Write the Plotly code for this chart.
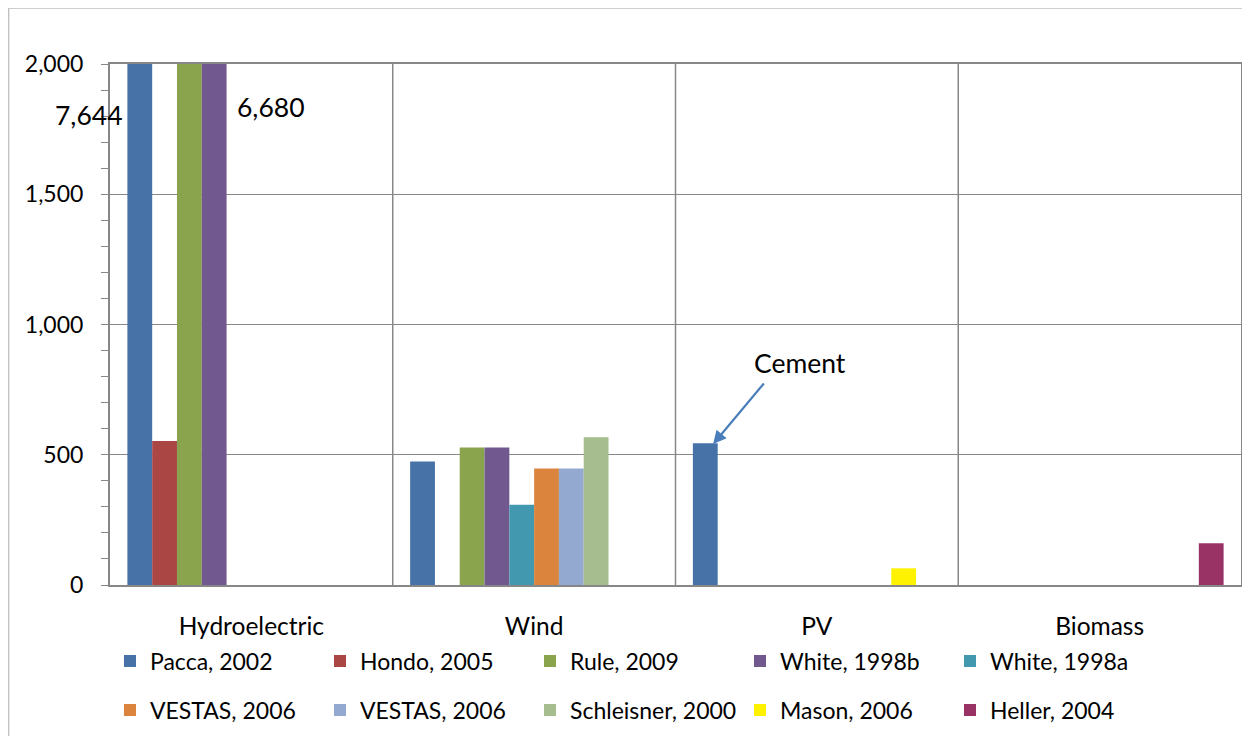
import plotly.graph_objects as go

categories = ["Hydroelectric", "Wind", "PV", "Biomass"]
series_names = ["Pacca, 2002", "Hondo, 2005", "Rule, 2009", "White, 1998b", "White, 1998a",
                "VESTAS, 2006", "VESTAS, 2006", "Schleisner, 2000", "Mason, 2006", "Heller, 2004"]
values = [
    [7644, 474, 544, None],     # Pacca, 2002
    [553, None, None, None],    # Hondo, 2005
    [2000, 528, None, None],    # Rule, 2009 (beyond axis)
    [6680, 528, None, None],    # White, 1998b
    [None, 308, None, None],    # White, 1998a
    [None, 447, None, None],    # VESTAS, 2006
    [None, 447, None, None],    # VESTAS, 2006
    [None, 567, None, None],    # Schleisner, 2000
    [None, None, 64, None],     # Mason, 2006
    [None, None, None, 160],    # Heller, 2004
]
colors = ["#4672A8", "#AA4644", "#8AA44E", "#71588F", "#4298AF",
          "#DB843D", "#94A9D0", "#A5BD8F", "#FFF200", "#993366"]
y_ticks = [0, 500, 1000, 1500, 2000]

FONT = "Lato"
FS = 23
FS_ANN = 26.5
FS_CAT = 24.5
GRID = "#878787"

fig = go.Figure()
for i, (name, vals, col) in enumerate(zip(series_names, values, colors)):
    fig.add_trace(go.Bar(
        x=categories, y=vals, name=name, marker_color=col, marker_line_width=0,
        legend="legend" if i < 5 else "legend2", cliponaxis=True,
    ))

# page has an 8px body margin: figure pixel = page pixel - 8
OFF = 8
W, H = 1234, 728
L, R, T, B = 110 - OFF, 1, 64 - OFF, H - (585 - OFF)
pw, ph = W - L - R, H - T - B

def px_x(p):   # page pixel -> paper x
    return (p - OFF - L) / pw

def px_y(p):   # page pixel -> paper y
    return (H - B - (p - OFF)) / ph

shapes = []
for xb in [0.5, 1.5, 2.5]:
    shapes.append(dict(type="line", xref="x", yref="paper", x0=xb, x1=xb, y0=0, y1=1,
                       line=dict(color=GRID, width=1.5), layer="below"))
# outer chart border (at figure edge)
shapes.append(dict(type="rect", xref="paper", yref="paper",
                   x0=px_x(8.7), x1=px_x(1400), y0=px_y(900), y1=px_y(8.2),
                   line=dict(color="#BFBFBF", width=1.3), fillcolor="rgba(0,0,0,0)", layer="below"))

annotations = [
    dict(x=-0.447, y=1804, xref="x", yref="y", text="7,644", showarrow=False,
         xanchor="right", yanchor="middle", font=dict(size=FS_ANN, color="black", family=FONT)),
    dict(x=-0.058, y=1835, xref="x", yref="y", text="6,680", showarrow=False,
         xanchor="left", yanchor="middle", font=dict(size=FS_ANN, color="black", family=FONT)),
    dict(x=1.942, y=852, xref="x", yref="y", text="Cement", showarrow=False,
         xanchor="center", yanchor="middle", font=dict(size=FS_ANN, color="black", family=FONT)),
    dict(x=1.633, y=541, xref="x", yref="y", text="", showarrow=True,
         ax=52, ay=-62, arrowhead=2, arrowsize=1.2, arrowwidth=2.2, arrowcolor="#4A7EBB"),
]

leg_common = dict(orientation="h", xanchor="left", yanchor="middle",
                  entrywidth=165, entrywidthmode="pixels", font=dict(size=FS, family=FONT),
                  bgcolor="rgba(0,0,0,0)", itemclick=False, tracegroupgap=0)

fig.update_layout(
    width=W, height=H,
    margin=dict(l=L, r=R, t=T, b=B, pad=0, autoexpand=False),
    paper_bgcolor="white", plot_bgcolor="white",
    font=dict(family=FONT, size=FS, color="black"),
    barmode="group", bargap=0.123, bargroupgap=0,
    showlegend=True,
    legend=dict(x=px_x(110), y=px_y(661), **leg_common),
    legend2=dict(x=px_x(110), y=px_y(710), **leg_common),
    shapes=shapes, annotations=annotations,
)

fig.update_xaxes(
    type="category", categoryorder="array", categoryarray=categories,
    range=[-0.5, 3.5], showgrid=False, zeroline=False,
    showline=True, linecolor=GRID, linewidth=2, mirror=True,
    ticks="outside", ticklen=19, tickcolor="rgba(0,0,0,0)",
    tickfont=dict(size=FS_CAT, family=FONT, color="black"),
)
fig.update_yaxes(
    range=[0, 2000], tickvals=y_ticks, ticktext=[f"{v:,}" for v in y_ticks],
    showgrid=True, gridcolor=GRID, gridwidth=1.3, zeroline=False,
    showline=True, linecolor=GRID, linewidth=2, mirror=True,
    ticks="outside", ticklen=7, tickcolor=GRID, tickwidth=1.3,
    ticklabelstandoff=13,
    minor=dict(dtick=100, ticks="outside", ticklen=7, tickcolor=GRID, tickwidth=1.3, showgrid=False),
    tickfont=dict(size=FS, family=FONT, color="black"),
)

fig.write_html("out.html")
